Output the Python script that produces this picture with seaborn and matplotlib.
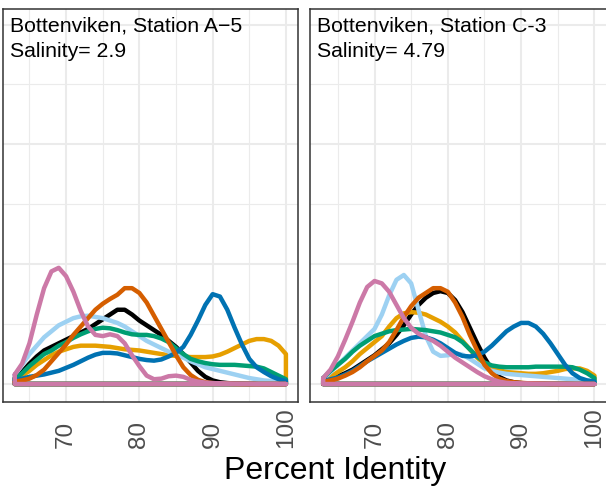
import numpy as np
import pandas as pd
import matplotlib
matplotlib.use('Agg')
import matplotlib.pyplot as plt
import seaborn as sns

# percent identity grid (density estimate, one value per unit)
identity = list(range(63, 101))

# Bottenviken, Station A-5 (y in grid units)
a5_black = [0.05, 0.10, 0.17, 0.23, 0.28, 0.31, 0.34, 0.37, 0.40, 0.43,
            0.46, 0.50, 0.54, 0.58, 0.62, 0.62, 0.58, 0.53, 0.49, 0.45,
            0.41, 0.36, 0.31, 0.25, 0.18, 0.11, 0.06, 0.03, 0.015, 0.008,
            0.004, 0.002, 0.001, 0.001, 0, 0, 0, 0]
a5_orange = [0.03, 0.07, 0.11, 0.16, 0.20, 0.24, 0.27, 0.29, 0.31, 0.32,
             0.32, 0.32, 0.315, 0.31, 0.30, 0.29, 0.285, 0.28, 0.27, 0.26,
             0.25, 0.24, 0.235, 0.23, 0.225, 0.225, 0.225, 0.23, 0.245, 0.27,
             0.30, 0.33, 0.36, 0.375, 0.375, 0.36, 0.32, 0.25]
a5_sky = [0.075, 0.16, 0.25, 0.32, 0.39, 0.44, 0.49, 0.52, 0.55, 0.565,
          0.57, 0.56, 0.55, 0.53, 0.51, 0.48, 0.44, 0.40, 0.36, 0.33,
          0.30, 0.27, 0.245, 0.22, 0.19, 0.165, 0.14, 0.125, 0.11, 0.095,
          0.08, 0.065, 0.05, 0.04, 0.03, 0.025, 0.02, 0.02]
a5_green = [0.04, 0.09, 0.15, 0.20, 0.25, 0.28, 0.32, 0.35, 0.385, 0.415,
            0.44, 0.46, 0.47, 0.465, 0.45, 0.43, 0.415, 0.41, 0.41, 0.40,
            0.38, 0.35, 0.30, 0.25, 0.21, 0.19, 0.175, 0.165, 0.16, 0.16,
            0.16, 0.155, 0.15, 0.145, 0.13, 0.10, 0.07, 0.04]
a5_blue = [0.03, 0.045, 0.06, 0.07, 0.08, 0.095, 0.11, 0.135, 0.16, 0.19,
           0.22, 0.245, 0.26, 0.26, 0.255, 0.24, 0.225, 0.21, 0.20, 0.195,
           0.205, 0.23, 0.26, 0.31, 0.41, 0.53, 0.66, 0.75, 0.73, 0.62,
           0.47, 0.33, 0.21, 0.14, 0.10, 0.065, 0.04, 0.025]
a5_verm = [0.02, 0.03, 0.045, 0.075, 0.12, 0.19, 0.26, 0.33, 0.41, 0.48,
           0.55, 0.62, 0.67, 0.71, 0.745, 0.80, 0.80, 0.76, 0.68, 0.57,
           0.46, 0.35, 0.24, 0.14, 0.075, 0.035, 0.015, 0.008, 0.004, 0.002,
           0.001, 0, 0, 0, 0, 0, 0, 0]
a5_pink = [0.08, 0.17, 0.34, 0.58, 0.80, 0.94, 0.97, 0.90, 0.77, 0.61,
           0.48, 0.41, 0.40, 0.415, 0.40, 0.34, 0.24, 0.15, 0.07, 0.04,
           0.045, 0.065, 0.07, 0.06, 0.035, 0.02, 0.012, 0.008, 0.005, 0.003,
           0.002, 0.001, 0.001, 0, 0, 0, 0, 0]

# Bottenviken, Station C-3
c3_black = [0.03, 0.045, 0.065, 0.09, 0.12, 0.16, 0.20, 0.24, 0.29, 0.34,
            0.41, 0.49, 0.58, 0.66, 0.72, 0.76, 0.775, 0.76, 0.70, 0.60,
            0.47, 0.34, 0.22, 0.12, 0.06, 0.03, 0.015, 0.008, 0.004, 0.002,
            0.001, 0, 0, 0, 0, 0, 0, 0]
c3_orange = [0.03, 0.06, 0.10, 0.14, 0.19, 0.25, 0.30, 0.35, 0.40, 0.48,
             0.55, 0.59, 0.60, 0.595, 0.58, 0.55, 0.52, 0.48, 0.43, 0.36,
             0.29, 0.22, 0.17, 0.135, 0.115, 0.10, 0.095, 0.09, 0.085, 0.085,
             0.09, 0.10, 0.11, 0.125, 0.13, 0.13, 0.11, 0.07]
c3_sky = [0.04, 0.10, 0.16, 0.22, 0.28, 0.34, 0.40, 0.46, 0.58, 0.74,
          0.87, 0.91, 0.84, 0.62, 0.40, 0.27, 0.235, 0.24, 0.255, 0.245,
          0.21, 0.17, 0.13, 0.11, 0.095, 0.085, 0.08, 0.075, 0.07, 0.065,
          0.06, 0.055, 0.05, 0.045, 0.04, 0.035, 0.03, 0.025]
c3_green = [0.05, 0.11, 0.16, 0.21, 0.27, 0.32, 0.36, 0.40, 0.42, 0.44,
            0.45, 0.455, 0.46, 0.455, 0.45, 0.44, 0.43, 0.41, 0.39, 0.35,
            0.29, 0.23, 0.18, 0.155, 0.145, 0.14, 0.14, 0.14, 0.14, 0.145,
            0.145, 0.145, 0.145, 0.145, 0.14, 0.12, 0.09, 0.05]
c3_blue = [0.025, 0.04, 0.055, 0.08, 0.11, 0.15, 0.19, 0.225, 0.26, 0.295,
           0.33, 0.36, 0.385, 0.395, 0.39, 0.37, 0.34, 0.30, 0.26, 0.235,
           0.23, 0.24, 0.27, 0.32, 0.38, 0.44, 0.48, 0.51, 0.51, 0.48,
           0.42, 0.34, 0.25, 0.16, 0.09, 0.05, 0.03, 0.02]
c3_verm = [0.02, 0.03, 0.045, 0.07, 0.10, 0.14, 0.19, 0.235, 0.28, 0.35,
           0.45, 0.56, 0.65, 0.72, 0.76, 0.80, 0.80, 0.77, 0.68, 0.56,
           0.41, 0.28, 0.16, 0.09, 0.045, 0.025, 0.015, 0.01, 0.006, 0.004,
           0.002, 0.001, 0, 0, 0, 0, 0, 0]
c3_pink = [0.05, 0.12, 0.23, 0.37, 0.52, 0.68, 0.81, 0.86, 0.84, 0.77,
           0.66, 0.55, 0.47, 0.42, 0.39, 0.36, 0.32, 0.27, 0.22, 0.18,
           0.14, 0.10, 0.065, 0.04, 0.02, 0.01, 0.006, 0.004, 0.003, 0.002,
           0.001, 0.001, 0, 0, 0, 0, 0, 0]

groups = ['black', 'orange', 'sky', 'green', 'blue', 'verm', 'pink']
colors = ['#000000', '#E69F00', '#9DD1F2', '#009E73', '#0072B2', '#D55E00', '#CC79A7']

panels = [
    ('Bottenviken, Station A\u22125\nSalinity= 2.9',
     [a5_black, a5_orange, a5_sky, a5_green, a5_blue, a5_verm, a5_pink]),
    ('Bottenviken, Station C-3\nSalinity= 4.79',
     [c3_black, c3_orange, c3_sky, c3_green, c3_blue, c3_verm, c3_pink]),
]


def density_frame(curves):
    # closed outline like ggplot's geom_density polygon
    rows = []
    for name, ys in zip(groups, curves):
        xs = identity + [identity[-1], identity[0], identity[0]]
        yy = list(ys) + [0, 0, ys[0]]
        rows.append(pd.DataFrame({'identity': xs, 'density': yy, 'group': name}))
    return pd.concat(rows, ignore_index=True)


sns.set_style('white')
plt.rcParams['font.family'] = ['Liberation Sans', 'DejaVu Sans']

W, H = 606, 488
fig = plt.figure(figsize=(W / 100, H / 100), dpi=100)
# panel boxes in pixels: left, right, top, bottom
boxes = [(2.7, 298.0, 9, 402), (310.0, 608.0, 9, 402)]
xlims = [(61.35, 101.65), (61.2, 101.85)]

for (label, curves), (l, r, t, b), xl in zip(panels, boxes, xlims):
    ax = fig.add_axes([l / W, 1 - b / H, (r - l) / W, (b - t) / H])
    df = density_frame(curves)
    sns.lineplot(data=df, x='identity', y='density', hue='group', hue_order=groups,
                 palette=colors, sort=False, estimator=None, linewidth=3.2,
                 legend=False, ax=ax, solid_capstyle='round', solid_joinstyle='round')
    ax.set_xlim(*xl)
    ax.set_ylim(-0.15, 3.13)
    ax.set_xticks([70, 80, 90, 100])
    ax.set_xticklabels(['70', '80', '90', '100'], rotation=90, color='#4D4D4D', fontsize=17.5)
    for lab in ax.get_xticklabels():
        lab.set_verticalalignment('bottom')
    ax.set_xticks([65, 75, 85, 95], minor=True)
    ax.set_yticks([0, 1, 2, 3])
    ax.set_yticklabels([])
    ax.set_yticks([0.5, 1.5, 2.5], minor=True)
    ax.tick_params(which='major', length=2.2, width=0.9, color='#333333')
    ax.tick_params(axis='x', which='major', pad=31)
    ax.tick_params(which='minor', length=0)
    ax.grid(True, which='major', color='#EBEBEB', linewidth=1.5)
    ax.grid(True, which='minor', color='#EBEBEB', linewidth=0.8)
    ax.set_axisbelow(True)
    for s in ax.spines.values():
        s.set_color('#333333')
        s.set_linewidth(1.1)
    ax.set_xlabel('')
    ax.set_ylabel('')
    ax.annotate(label, xy=(0, 1), xycoords='axes fraction', xytext=(5, -5.5),
                textcoords='offset points', ha='left', va='top', fontsize=15.3,
                color='black', linespacing=1.4)

fig.text(335 / W, 1 - 479 / H, 'Percent Identity', ha='center', va='baseline',
         fontsize=23, color='black')

fig.savefig('out.png', dpi=100)
